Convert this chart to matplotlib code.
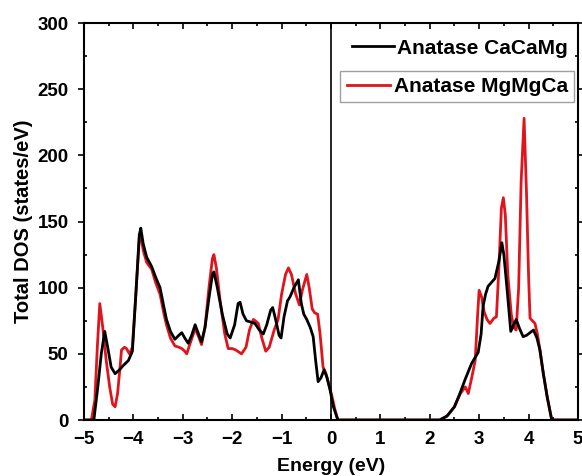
import numpy as np
import matplotlib
matplotlib.use("Agg")
import matplotlib.pyplot as plt
from matplotlib.ticker import MultipleLocator

plt.rcParams['font.family'] = ['Liberation Sans', 'DejaVu Sans']
plt.rcParams['font.weight'] = 'bold'

# Anatase CaCaMg (black)
e_ca = [-5.0, -4.85, -4.80, -4.72, -4.65, -4.58, -4.52, -4.45, -4.37, -4.28, -4.21, -4.10, -4.02, -3.95, -3.88,
        -3.85, -3.80, -3.73, -3.63, -3.55, -3.46, -3.38, -3.33, -3.25, -3.16, -3.08, -3.02, -2.96, -2.89, -2.82,
        -2.75, -2.68, -2.62, -2.55, -2.47, -2.40, -2.37, -2.30, -2.20, -2.10, -2.04, -1.95, -1.88, -1.84, -1.78,
        -1.71, -1.62, -1.54, -1.45, -1.37, -1.30, -1.22, -1.18, -1.12, -1.05, -1.01, -0.95, -0.88, -0.83, -0.75,
        -0.66, -0.60, -0.55, -0.49, -0.42, -0.36, -0.31, -0.26, -0.20, -0.14, -0.08, -0.02, 0.05, 0.14, 2.20,
        2.35, 2.50, 2.61, 2.72, 2.85, 2.98, 3.04, 3.08, 3.13, 3.18, 3.25, 3.32, 3.40, 3.46, 3.50, 3.56, 3.61,
        3.64, 3.70, 3.75, 3.82, 3.89, 3.96, 4.03, 4.10, 4.17, 4.23, 4.30, 4.38, 4.47, 5.0]
dos_ca = [0, 0, 0, 25, 50, 67, 55, 40, 35, 38, 41, 45, 52, 95, 140,
          145, 133, 123, 116, 108, 100, 85, 76, 67, 61, 64, 66, 62, 58, 64,
          72, 65, 59, 70, 92, 110, 112, 100, 80, 65, 62, 72, 88, 89, 80,
          75, 74, 73, 68, 65, 72, 83, 85, 76, 64, 62, 78, 90, 93, 100,
          106, 88, 80, 76, 70, 63, 45, 29, 32, 38, 32, 23, 10, 0, 0,
          3, 10, 20, 31, 43, 51, 65, 86, 95, 101, 104, 107, 120, 134, 125, 101, 80,
          67, 72, 76, 69, 63, 64, 66, 68, 62, 53, 35, 17, 0, 0]

# Anatase MgMgCa (red)
e_mg = [-5.0, -4.85, -4.78, -4.73, -4.68, -4.62, -4.55, -4.48, -4.42, -4.37, -4.32, -4.27, -4.24, -4.18, -4.14,
        -4.08, -4.02, -3.95, -3.88, -3.85, -3.80, -3.73, -3.63, -3.55, -3.46, -3.38, -3.33, -3.25, -3.16, -3.08,
        -3.02, -2.96, -2.92, -2.85, -2.75, -2.68, -2.62, -2.55, -2.47, -2.40, -2.37, -2.32, -2.25, -2.15, -2.08,
        -2.00, -1.93, -1.81, -1.72, -1.65, -1.57, -1.50, -1.47, -1.40, -1.32, -1.25, -1.15, -1.07, -1.00, -0.92,
        -0.86, -0.80, -0.72, -0.64, -0.58, -0.49, -0.44, -0.38, -0.33, -0.27, -0.22, -0.16, -0.10, -0.05, 0.02,
        0.08, 0.14, 2.20, 2.35, 2.50, 2.62, 2.72, 2.78, 2.85, 2.92, 2.97, 3.00, 3.05, 3.10, 3.16, 3.22, 3.30,
        3.35, 3.40, 3.45, 3.49, 3.53, 3.58, 3.65, 3.70, 3.75, 3.80, 3.85, 3.91, 3.96, 4.00, 4.03, 4.08, 4.13,
        4.18, 4.23, 4.30, 4.38, 4.47, 5.0]
dos_mg = [0, 0, 15, 55, 88, 70, 45, 25, 12, 10, 20, 40, 53, 55, 54,
          50, 55, 95, 137, 140, 128, 119, 114, 104, 95, 80, 72, 62, 56, 55,
          54, 52, 50, 58, 69, 63, 57, 70, 100, 122, 125, 115, 92, 65, 54,
          54, 53, 50, 55, 68, 76, 74, 73, 62, 52, 55, 68, 76, 95, 110,
          115, 110, 96, 87, 98, 110, 100, 84, 81, 80, 65, 40, 35, 28, 18,
          8, 0, 0, 3, 10, 20, 25, 20, 32, 45, 80, 98, 93, 82, 76, 73, 77,
          78, 115, 160, 168, 155, 110, 80, 70, 68, 100, 180, 228, 170, 110, 77, 75, 73,
          65, 53, 35, 17, 0, 0]

x_ticks = [-5, -4, -3, -2, -1, 0, 1, 2, 3, 4, 5]
x_labels = ['\u22125', '\u22124', '\u22123', '\u22122', '\u22121', '0', '1', '2', '3', '4', '5']

fig = plt.figure(figsize=(5.82, 4.76), dpi=100)
ax = fig.add_axes([0.1443, 0.1176, 0.8487, 0.834])

l_mg, = ax.plot(e_mg, dos_mg, color='#e0141c', lw=2.0)
l_ca, = ax.plot(e_ca, dos_ca, color='black', lw=2.0)
ax.axvline(0, color='black', lw=1.2)

ax.set_xlim(-5, 5)
ax.set_ylim(0, 300)
ax.xaxis.set_minor_locator(MultipleLocator(0.5))
ax.yaxis.set_major_locator(MultipleLocator(50))
ax.yaxis.set_minor_locator(MultipleLocator(25))
ax.tick_params(which='both', top=True, right=True, direction='in', width=1.2)
ax.tick_params(which='major', length=4, labelsize=13.5)
ax.tick_params(which='minor', length=2.5)
ax.tick_params(axis='y', which='major', left=True, direction='out', length=4, pad=7)
ax.tick_params(axis='x', which='major', pad=8)
for lab in ax.get_yticklabels():
    lab.set_fontweight('bold')
ax.set_xticks(x_ticks)
ax.set_xticklabels(x_labels, fontweight='bold')
for s in ax.spines.values():
    s.set_linewidth(1.5)

ax.set_xlabel('Energy (eV)', fontsize=14, fontweight='bold', labelpad=7)
ax.set_ylabel('Total DOS (states/eV)', fontsize=14.5, fontweight='bold', labelpad=3.5)

leg1 = ax.legend([l_ca], ['Anatase CaCaMg'], loc='upper right', frameon=False,
                 prop={'size': 15, 'weight': 'bold'}, handlelength=2.0, handletextpad=0.15,
                 bbox_to_anchor=(1.011, 1.0), borderaxespad=0.35)
ax.add_artist(leg1)
leg2 = ax.legend([l_mg], ['Anatase MgMgCa'], loc='upper right', frameon=True, fancybox=False,
                 prop={'size': 15, 'weight': 'bold'}, handlelength=2.1, handletextpad=0.15,
                 bbox_to_anchor=(0.992, 0.88), borderaxespad=0.0, borderpad=0.3)
leg2.get_frame().set_edgecolor('#888888')
leg2.get_frame().set_linewidth(1.0)

fig.savefig('out.png', dpi=100)
